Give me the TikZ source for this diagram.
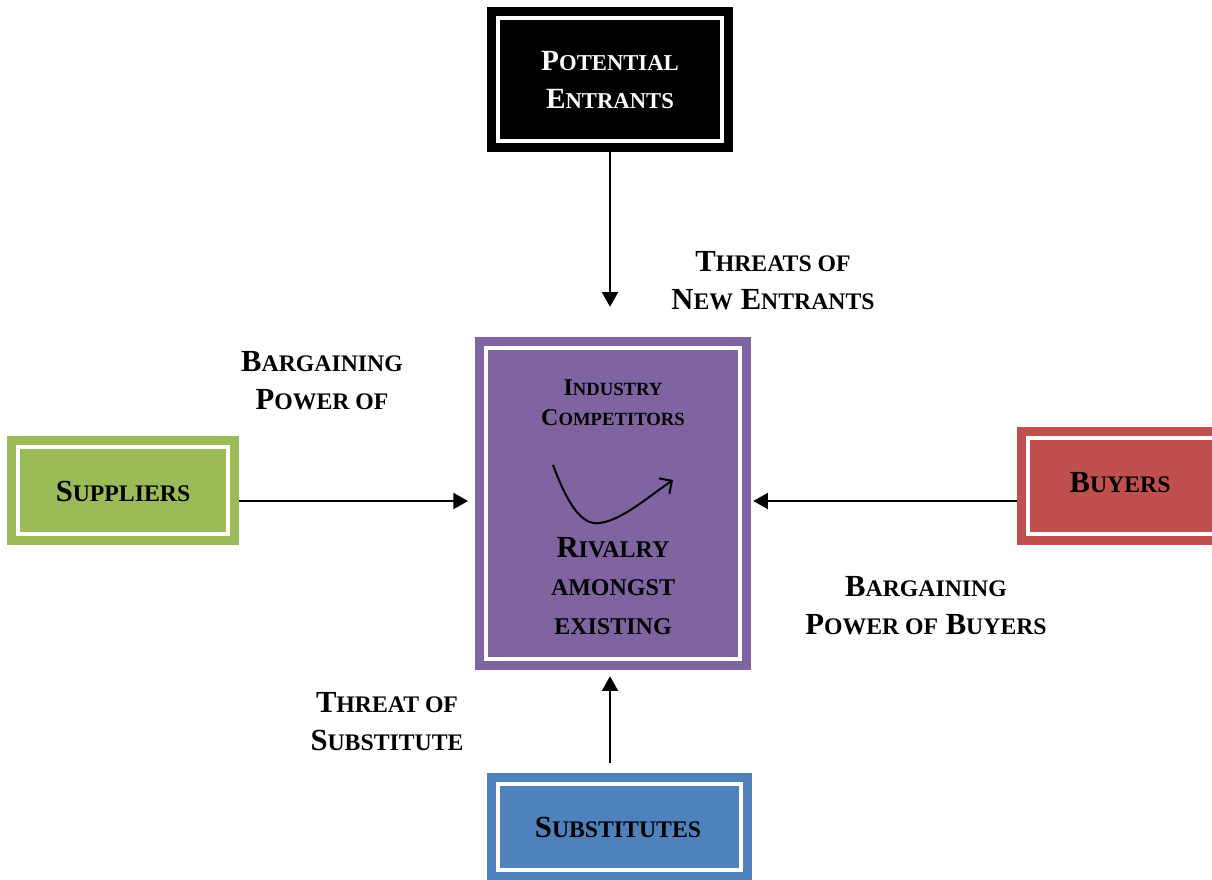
\documentclass[tikz,border=0pt]{standalone}
\usepackage{fontspec}
\setmainfont{Liberation Serif}
\usetikzlibrary{arrows.meta}
\definecolor{entrantblack}{HTML}{000000}
\definecolor{rivalpurple}{HTML}{8064A2}
\definecolor{supgreen}{HTML}{9BBB59}
\definecolor{buyred}{HTML}{C0504D}
\definecolor{subblue}{HTML}{4F81BD}
\newcommand{\lo}[1]{{\fontsize{17.8}{28.5}\selectfont #1}}
\newcommand{\lopot}[1]{{\fontsize{17}{28.5}\selectfont #1}}
\newcommand{\loin}[1]{{\fontsize{14}{22.5}\selectfont #1}}
\newcommand{\lorv}[1]{{\fontsize{18}{29}\selectfont #1}}
\begin{document}
\begin{tikzpicture}[x=0.75pt,y=-0.75pt]
		\tikzset{every node/.style={inner sep=0pt, font=\bfseries\fontsize{23}{28.5}\selectfont, align=center},
			forcebox/.style={rectangle, fill=#1, draw=none, path picture={
				\draw [white, line width=3pt] ([shift={(8.6pt,-8.6pt)}]path picture bounding box.north west)
					rectangle ([shift={(-8.6pt,8.6pt)}]path picture bounding box.south east);}},
			arr/.style={line width=1.5pt, -{Triangle[length=11pt,width=12pt]}}}
		\useasboundingbox (0,0) rectangle (1212,879);
		\clip (0,0) rectangle (1212,879);
		% boxes
		\node [forcebox=entrantblack, minimum width=184.5pt, minimum height=108.75pt] (pot) at (610,79.5) {};
		\node [text=white, font=\bfseries\fontsize{22}{28.5}\selectfont] (pottext) at (610,80) {P\lopot{OTENTIAL}\\E\lopot{NTRANTS}};
		\node [forcebox=rivalpurple, minimum width=207pt, minimum height=249.75pt] (ctr) at (613,503.5) {};
		\node [forcebox=supgreen, minimum width=174pt, minimum height=81.75pt] (sup) at (123,490.5) {};
		\node (suptext) at (123,491) {S\lo{UPPLIERS}};
		\node [forcebox=buyred, minimum width=163.5pt, minimum height=88.5pt] (buy) at (1126,486) {};
		\node (buytext) at (1120,483) {B\lo{UYERS}};
		\node [forcebox=subblue, minimum width=198.75pt, minimum height=81pt] (sub) at (619.5,827) {};
		\node (subtext) at (618,827) {S\lo{UBSTITUTES}};
		% inside the rivalry box
		\node [font=\bfseries\fontsize{18}{22.5}\selectfont] (ind) at (613,403) {I\loin{NDUSTRY}\\C\loin{OMPETITORS}};
		\node [font=\bfseries\fontsize{23}{29}\selectfont] (riv) at (613,586) {R\lorv{IVALRY}\\\lorv{AMONGST}\\\lorv{EXISTING}};
		\draw [line width=1.5pt, -{Straight Barb[length=7pt,width=14pt]}] (553,465) .. controls (568,505) and (582,526) .. (600,523) .. controls (622,520) and (648,497) .. (673,480);
		% labels
		\node (lblnew) at (773,281) {T\lo{HREATS OF}\\N\lo{EW} E\lo{NTRANTS}};
		\node (lblsup) at (322,381) {B\lo{ARGAINING}\\P\lo{OWER OF}};
		\node (lblbuy) at (926,606) {B\lo{ARGAINING}\\P\lo{OWER OF} B\lo{UYERS}};
		\node (lblsub) at (387,722) {T\lo{HREAT OF}\\S\lo{UBSTITUTE}};
		% forces
		\draw [arr, shorten >=22.5pt] (pot.south) -- (pot.south |- ctr.north);
		\draw [arr, shorten >=5pt] (sup.east |- 0,501) -- (ctr.west |- 0,501);
		\draw [arr, shorten >=1.5pt] (buy.west |- 0,501) -- (ctr.east |- 0,501);
		\draw [arr, shorten <=7.5pt, shorten >=4.5pt] (pot.south |- sub.north) -- (pot.south |- ctr.south);
	\end{tikzpicture}
\end{document}
